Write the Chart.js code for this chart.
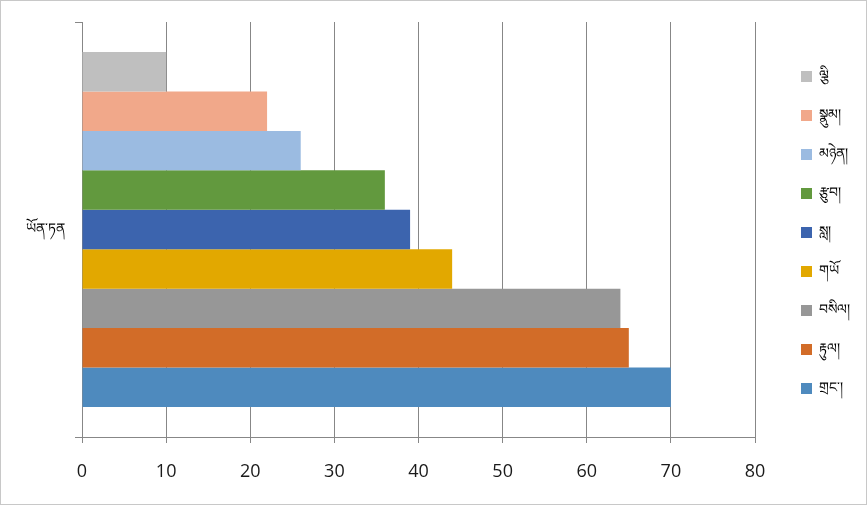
<!DOCTYPE html>
<html>
<head>
<meta charset="utf-8">
<script src="https://cdn.jsdelivr.net/npm/chart.js@4"></script>
<style>
  html, body { margin: 0; padding: 0; background: #fff; }
  #wrap { width: 867px; height: 505px; box-sizing: border-box; border: 1px solid #c8c8c8; }
  #chart { display: block; }
</style>
</head>
<body>
<div id="wrap"><canvas id="chart" width="865" height="503"></canvas></div>
<script>
// kategori tunggal dan seri (urut dari atas ke bawah)
const categories = ["ཡོན་ཏན"];
const seriesNames = ["ལྕི", "སྣུམ།", "མཉེན།", "རྩུབ།", "སླ།", "གཡོ", "བསིལ།", "རྟུལ།", "གྲང་།"];
const seriesValues = [10, 22, 26, 36, 39, 44, 64, 65, 70];
const seriesColors = ["#bfbfbf", "#f1a88a", "#9bbbe1", "#62993e", "#3c64ae", "#e2a800", "#979797", "#d26c28", "#4e8abe"];
const xTicks = [0, 10, 20, 30, 40, 50, 60, 70, 80];

const gridColor = "#878787";

// posisi legend dibuat tetap
const legendPos = {
    id: "legendPos",
    afterInit(chart) {
        const lg = chart.legend;
        const fit = lg.fit;
        lg.fit = function () {
            fit.call(this);
            this.width = 93;
        };
    },
    afterLayout(chart) {
        chart.legend.left = 775;
        chart.legend.right = 865;
        chart.legend.top = 43.5;
    }
};

new Chart(document.getElementById("chart"), {
    type: "bar",
    data: {
        labels: categories,
        datasets: seriesNames.map((name, i) => ({
            label: name,
            data: [seriesValues[i]],
            backgroundColor: seriesColors[i],
            borderWidth: 0,
            categoryPercentage: 0.855,
            barPercentage: 1
        }))
    },
    options: {
        indexAxis: "y",
        responsive: false,
        animation: false,
        layout: { padding: { top: 21, left: 0, right: 0, bottom: 0 } },
        plugins: {
            tooltip: { enabled: false },
            legend: {
                position: "right",
                align: "start",
                labels: {
                    boxWidth: 11,
                    boxHeight: 11,
                    padding: 25,
                    color: "#000",
                    font: { size: 14, family: "'Noto Sans', sans-serif" }
                }
            }
        },
        scales: {
            x: {
                min: 0,
                max: 80,
                afterBuildTicks: s => { s.ticks = xTicks.map(v => ({ value: v })); },
                afterFit: s => { s.height = 67; s.paddingRight = 111; },
                grid: { color: gridColor, lineWidth: 1, tickLength: 6 },
                border: { color: gridColor },
                ticks: {
                    color: "#1a1a1a",
                    padding: 18,
                    font: { size: 18, family: "'Open Sans', sans-serif" }
                }
            },
            y: {
                afterFit: s => { s.width = 81; },
                grid: { drawOnChartArea: false, color: gridColor, tickLength: 7 },
                border: { color: gridColor },
                ticks: {
                    color: "#000",
                    padding: 10,
                    font: { size: 14, family: "'Noto Sans', sans-serif" }
                }
            }
        }
    },
    plugins: [legendPos]
});
</script>
</body>
</html>
